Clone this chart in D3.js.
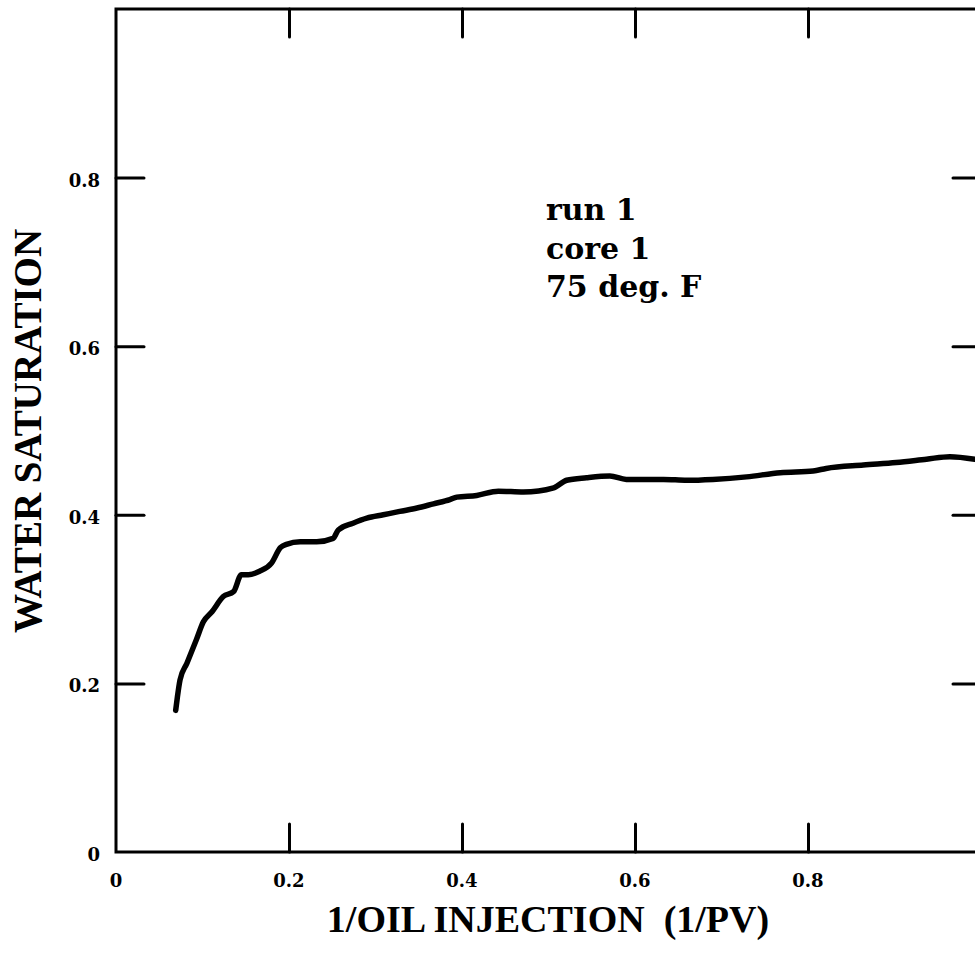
<!DOCTYPE html>
<html>
<head>
<meta charset="utf-8">
<script src="https://cdn.jsdelivr.net/npm/d3@7/dist/d3.min.js"></script>
<style>
  html, body { margin: 0; padding: 0; background: #fff; }
  svg { display: block; }
</style>
</head>
<body>
<svg id="chart" width="975" height="957"></svg>
<script>
// Data
const injX = [0.069, 0.071, 0.074, 0.082, 0.093, 0.101, 0.111, 0.124, 0.136, 0.145, 0.153, 0.166, 0.180, 0.190, 0.197, 0.213, 0.232, 0.251, 0.257, 0.274, 0.290, 0.309, 0.328, 0.348, 0.367, 0.386, 0.394, 0.417, 0.442, 0.471, 0.506, 0.521, 0.544, 0.571, 0.590, 0.633, 0.660, 0.690, 0.729, 0.768, 0.806, 0.821, 0.864, 0.902, 0.937, 0.964, 0.993];
const satY = [0.168, 0.184, 0.204, 0.224, 0.252, 0.273, 0.285, 0.303, 0.309, 0.329, 0.329, 0.333, 0.343, 0.361, 0.365, 0.368, 0.368, 0.372, 0.382, 0.390, 0.396, 0.400, 0.404, 0.408, 0.413, 0.418, 0.421, 0.423, 0.428, 0.427, 0.432, 0.441, 0.444, 0.446, 0.442, 0.442, 0.441, 0.442, 0.445, 0.450, 0.452, 0.455, 0.459, 0.462, 0.466, 0.469, 0.466];
const xTicks = [0, 0.2, 0.4, 0.6, 0.8];
const yTicks = [0, 0.2, 0.4, 0.6, 0.8];
const xTickLabels = ["0", "0.2", "0.4", "0.6", "0.8"];
const yTickLabels = ["0", "0.2", "0.4", "0.6", "0.8"];
const annotation = ["run 1", "core 1", "75 deg. F"];
const xTitle = "1/OIL INJECTION\u00a0\u00a0(1/PV)";
const yTitle = "WATER SATURATION";

(function () {
const svg = d3.select("#chart");
const mLeft = 116, mRight = 981, mTop = 9, mBottom = 852;
const x = d3.scaleLinear().domain([0, 1]).range([mLeft, mRight]);
const y = d3.scaleLinear().domain([0, 1]).range([mBottom, mTop]);
const tickLen = 28;
const ink = "#000";
const serif = "'Liberation Serif', 'DejaVu Serif', serif";
const wideSerif = "'DejaVu Serif', 'Liberation Serif', serif";

// Frame
svg.append("rect")
  .attr("x", mLeft).attr("y", mTop)
  .attr("width", mRight - mLeft).attr("height", mBottom - mTop)
  .attr("fill", "none").attr("stroke", ink).attr("stroke-width", 3);

const inner = v => v > 0;
const gB = svg.append("g").attr("transform", `translate(0,${mBottom})`)
  .call(d3.axisBottom(x).tickValues(xTicks.filter(inner)).tickSize(-tickLen).tickFormat(""));
const gT = svg.append("g").attr("transform", `translate(0,${mTop})`)
  .call(d3.axisTop(x).tickValues(xTicks.filter(inner)).tickSize(-tickLen).tickFormat(""));
const gL = svg.append("g").attr("transform", `translate(${mLeft},0)`)
  .call(d3.axisLeft(y).tickValues(yTicks.filter(inner)).tickSize(-tickLen).tickFormat(""));
const gR = svg.append("g").attr("transform", `translate(${mRight},0)`)
  .call(d3.axisRight(y).tickValues(yTicks.filter(inner)).tickSize(-tickLen).tickFormat(""));
[gB, gT, gL, gR].forEach(g => {
  g.select(".domain").remove();
  g.selectAll(".tick line").attr("stroke", ink).attr("stroke-width", 3).attr("stroke-linecap", "round");
});

// Tick labels
svg.append("g").selectAll("text").data(xTicks).join("text")
  .attr("x", d => x(d)).attr("y", mBottom + 35)
  .attr("text-anchor", "middle")
  .attr("font-family", wideSerif).attr("font-weight", "bold").attr("font-size", 18)
  .text((d, i) => xTickLabels[i]);
svg.append("g").selectAll("text").data(yTicks).join("text")
  .attr("x", mLeft - 16).attr("y", d => y(d) + 9)
  .attr("text-anchor", "end")
  .attr("font-family", wideSerif).attr("font-weight", "bold").attr("font-size", 18)
  .text((d, i) => yTickLabels[i]);

// Axis titles
svg.append("text")
  .attr("x", 548).attr("y", 932)
  .attr("text-anchor", "middle")
  .attr("font-family", serif).attr("font-weight", "bold").attr("font-size", 38)
  .text(xTitle);
svg.append("text")
  .attr("transform", `translate(41,431) rotate(-90)`)
  .attr("text-anchor", "middle")
  .attr("font-family", serif).attr("font-weight", "bold").attr("font-size", 39)
  .text(yTitle);

// Annotation
svg.append("g").selectAll("text").data(annotation).join("text")
  .attr("x", 546).attr("y", (d, i) => 220 + i * 38.5)
  .attr("font-family", wideSerif).attr("font-weight", "bold").attr("font-size", 30)
  .text(d => d);

// Curve
const pts = injX.map((v, i) => [v, satY[i]]);
svg.append("path")
  .datum(pts)
  .attr("fill", "none").attr("stroke", ink).attr("stroke-width", 5.5)
  .attr("stroke-linejoin", "round").attr("stroke-linecap", "round")
  .attr("d", d3.line().x(d => x(d[0])).y(d => y(d[1])).curve(d3.curveMonotoneX));
})();
</script>
</body>
</html>
